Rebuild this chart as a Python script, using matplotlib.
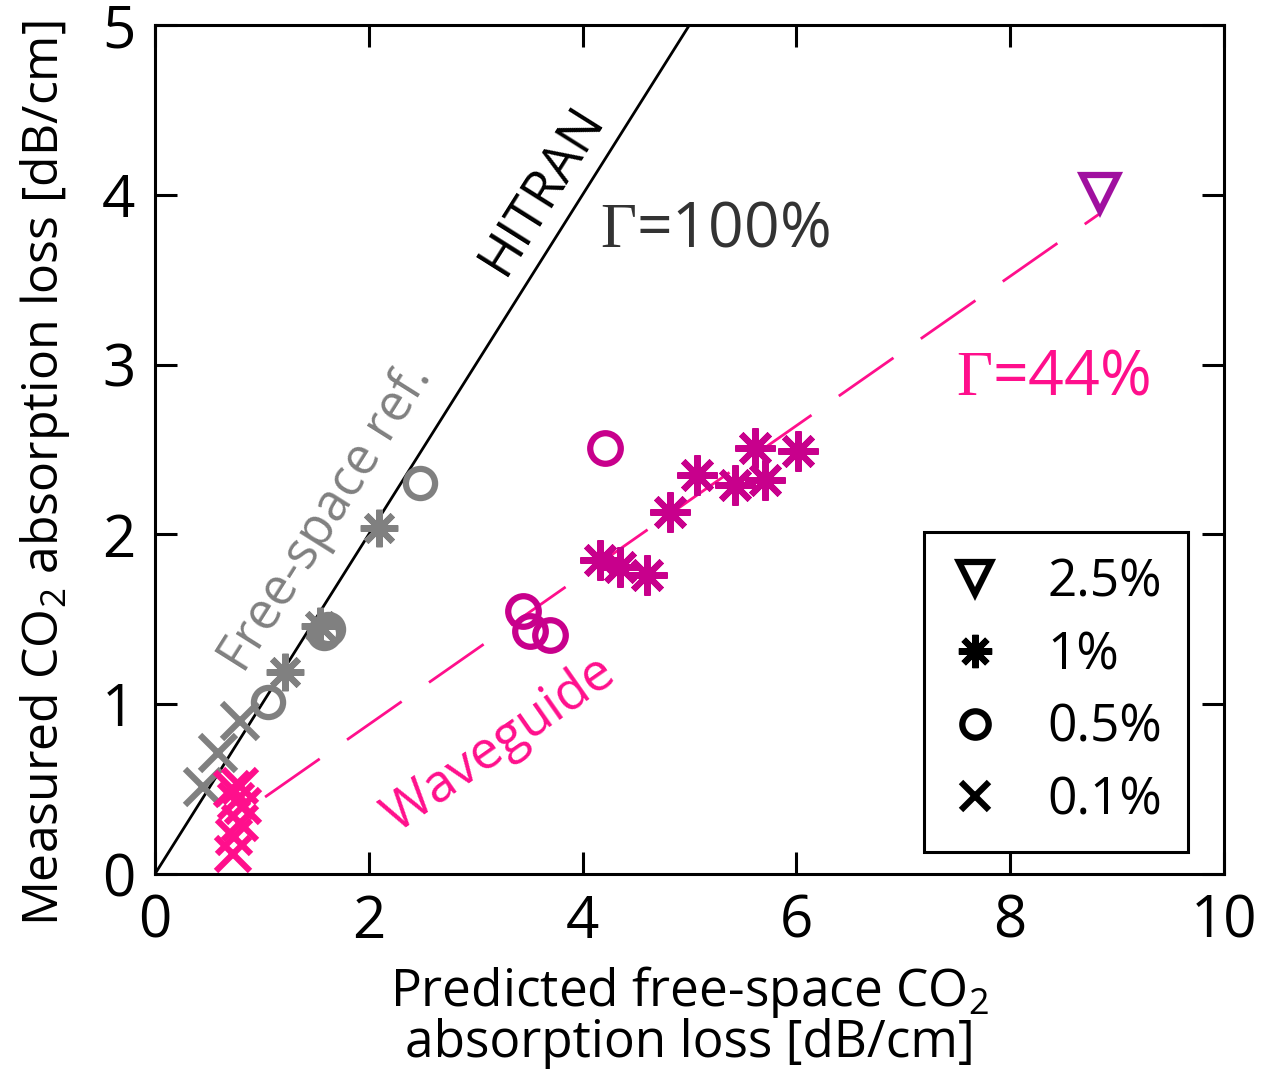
import numpy as np
import matplotlib
matplotlib.use('Agg')
import matplotlib.pyplot as plt

plt.rcParams['font.family'] = ['Open Sans', 'DejaVu Sans']
plt.rcParams['mathtext.fontset'] = 'custom'
plt.rcParams['mathtext.rm'] = 'Open Sans'
plt.rcParams['mathtext.it'] = 'Open Sans:italic'
plt.rcParams['mathtext.sf'] = 'Liberation Serif'

# free-space reference (gray)
fs_x01_x = [0.45, 0.59, 0.80]
fs_x01_y = [0.51, 0.71, 0.90]
fs_o05_x = [1.06, 1.58, 1.62, 2.48]
fs_o05_y = [1.01, 1.42, 1.44, 2.30]
fs_a1_x = [1.22, 1.54, 2.10]
fs_a1_y = [1.19, 1.46, 2.04]

# waveguide (magenta)
wg_x01_x = [0.72, 0.80, 0.76, 0.82, 0.80, 0.74, 0.73]
wg_x01_y = [0.50, 0.52, 0.43, 0.40, 0.30, 0.22, 0.12]
wg_o05_x = [3.44, 3.51, 3.70, 4.21]
wg_o05_y = [1.55, 1.43, 1.41, 2.51]
wg_a1_x = [4.16, 4.35, 4.60, 4.82, 5.07, 5.43, 5.61, 5.71, 6.02]
wg_a1_y = [1.85, 1.81, 1.76, 2.13, 2.35, 2.29, 2.51, 2.32, 2.49]
wg_t25_x = [8.84]
wg_t25_y = [4.01]

hitran_slope = 1.0
wg_slope = 0.44

gray = '#808080'
mag = '#c8008c'
pink = '#ff0f8c'
purple = '#a0109f'
aster = (8, 2, 0)

fig = plt.figure(figsize=(12.63, 10.75), dpi=100)
ax = fig.add_axes([0.1227, 0.187, 0.8463, 0.7897])

xl = np.array([0, 5.2])
ax.plot(xl, hitran_slope * xl, color='black', lw=2)
xw = np.array([1.03, 8.84])
ax.plot(xw, wg_slope * xw, color=pink, lw=2, dashes=(24, 12))

ax.plot(fs_x01_x, fs_x01_y, 'x', color=gray, ms=26, mew=4.5, ls='none')
ax.plot(fs_o05_x, fs_o05_y, 'o', color=gray, mfc='none', ms=21, mew=4.5, ls='none')
ax.plot(fs_a1_x, fs_a1_y, marker=aster, color=gray, ms=27, mew=4.5, ls='none')

ax.plot(wg_x01_x, wg_x01_y, 'x', color=pink, ms=25, mew=4.5, ls='none')
ax.plot(wg_o05_x, wg_o05_y, 'o', color=mag, mfc='none', ms=22, mew=4.5, ls='none')
ax.plot(wg_a1_x, wg_a1_y, marker=aster, color=mag, ms=29, mew=4.5, ls='none')
ax.plot(wg_t25_x, wg_t25_y, 'v', color=purple, mfc='none', ms=26, mew=4.5, ls='none')

# legend proxies
h1, = ax.plot([], [], 'v', color='black', mfc='none', ms=23, mew=4.5)
h2, = ax.plot([], [], marker=aster, color='black', ms=24, mew=4.5, ls='none')
h3, = ax.plot([], [], 'o', color='black', mfc='none', ms=19, mew=4.5)
h4, = ax.plot([], [], 'x', color='black', ms=20, mew=4.5, ls='none')
leg = ax.legend([h1, h2, h3, h4], ['2.5%', '1%', '0.5%', '0.1%'],
                loc='lower right', bbox_to_anchor=(0.966, 0.026),
                fontsize=37, frameon=True, fancybox=False,
                handlelength=1.0, handletextpad=0.9, labelspacing=0.42,
                borderpad=0.5, borderaxespad=0)
leg.get_frame().set_edgecolor('black')
leg.get_frame().set_linewidth(2.2)
leg.get_frame().set_alpha(1)

ang1 = np.degrees(np.arctan(hitran_slope * (849 / 5) / (1069 / 10)))
ang2 = np.degrees(np.arctan(wg_slope * (849 / 5) / (1069 / 10)))
ax.text(3.62, 4.03, 'HITRAN', rotation=ang1, fontsize=38, color='black',
        ha='center', va='center', rotation_mode='anchor')
ax.text(1.60, 2.10, 'Free-space ref.', rotation=ang1, fontsize=37, color=gray,
        ha='center', va='center', rotation_mode='anchor')
ax.text(3.22, 0.76, 'Waveguide', rotation=ang2, fontsize=38, color=pink,
        ha='center', va='center', rotation_mode='anchor')
ax.text(5.24, 3.79, r'$\mathsf{\Gamma}$=100%', fontsize=45, color='#333333',
        ha='center', va='center')
ax.text(8.40, 2.92, r'$\mathsf{\Gamma}$=44%', fontsize=45, color=pink,
        ha='center', va='center')

ax.set_xlim(0, 10)
ax.set_ylim(0, 5)
ax.set_xticks([0, 2, 4, 6, 8, 10])
ax.set_yticks([0, 1, 2, 3, 4, 5])
ax.tick_params(direction='in', length=16, width=2.2, labelsize=42,
               top=True, right=True, pad=14)
for s in ax.spines.values():
    s.set_linewidth(2.2)

ax.set_xlabel('Predicted free-space CO$_2$\nabsorption loss [dB/cm]',
              fontsize=37, linespacing=0.95, labelpad=9)
ax.set_ylabel('Measured CO$_2$ absorption loss [dB/cm]', fontsize=36)
ax.yaxis.set_label_coords(-0.078, 0.472)

plt.savefig('out.png', dpi=100)
